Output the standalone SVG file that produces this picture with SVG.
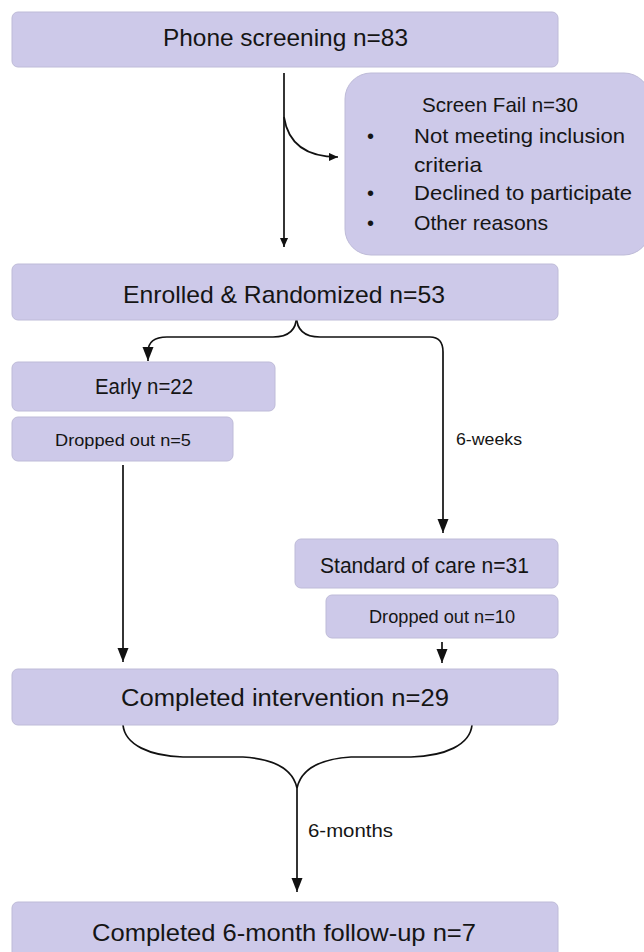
<svg xmlns="http://www.w3.org/2000/svg" width="644" height="952" viewBox="0 0 644 952">
<defs>
<style>
.box{fill:#cdc9e9;stroke:#bebbd8;stroke-width:1}
.t{font-family:"Liberation Sans",Arial,sans-serif;fill:#151515}
.ln{fill:none;stroke:#111;stroke-width:1.7}
</style>
<marker id="ah" markerUnits="userSpaceOnUse" viewBox="0 0 12 14" refX="14" refY="6" markerWidth="12" markerHeight="14" orient="auto">
<path d="M0,0.5 L14,6 L0,11.5 z" fill="#111"/>
</marker>
<marker id="ahs" markerUnits="userSpaceOnUse" viewBox="0 0 10 10" refX="10" refY="5" markerWidth="9" markerHeight="9" orient="auto">
<path d="M0,0.5 L10,5 L0,9.5 z" fill="#111"/>
</marker>
</defs>
<g id="connectors">
<path class="ln" d="M284,73 V247" marker-end="url(#ahs)"/>
<path class="ln" d="M284,117 C288,143 306,157 338,157" marker-end="url(#ahs)"/>
<path class="ln" d="M296.5,316 Q296.5,337 273,337 H167 Q148,337 148,352 V361" marker-end="url(#ah)"/>
<path class="ln" d="M296.5,316 Q296.5,337 320,337 H430 Q443,337 443,352 V533" marker-end="url(#ah)"/>
<path class="ln" d="M123,465 V662" marker-end="url(#ah)"/>
<path class="ln" d="M442,642 V663" marker-end="url(#ah)"/>
<path class="ln" d="M123,725 C125,745 150,756 183,757 H243 C275,759 293,770 297,788"/>
<path class="ln" d="M472,725 C470,745 445,756 411,757 H351 C319,759 301,770 297,788"/>
<path class="ln" d="M297,788 V892" marker-end="url(#ah)"/>
</g>
<g id="phone-screening">
<rect class="box" x="12" y="12" width="546" height="55" rx="6"/>
<text class="t" x="163" y="46" font-size="24" textLength="245" lengthAdjust="spacingAndGlyphs">Phone  screening n=83</text>
</g>
<g id="screen-fail">
<rect class="box" x="345" y="73" width="305" height="182" rx="26"/>
<text class="t" x="422" y="112" font-size="21" textLength="156" lengthAdjust="spacingAndGlyphs">Screen Fail n=30</text>
<text class="t" x="367" y="143" font-size="20">•</text>
<text class="t" x="414" y="143" font-size="21" textLength="211" lengthAdjust="spacingAndGlyphs">Not meeting inclusion</text>
<text class="t" x="414" y="172" font-size="21" textLength="68" lengthAdjust="spacingAndGlyphs">criteria</text>
<text class="t" x="367" y="200" font-size="20">•</text>
<text class="t" x="414" y="200" font-size="21" textLength="218" lengthAdjust="spacingAndGlyphs">Declined to participate</text>
<text class="t" x="367" y="230" font-size="20">•</text>
<text class="t" x="414" y="230" font-size="21" textLength="134" lengthAdjust="spacingAndGlyphs">Other reasons</text>
</g>
<g id="enrolled">
<rect class="box" x="12" y="264" width="546" height="56" rx="6"/>
<text class="t" x="123" y="303" font-size="24" textLength="322" lengthAdjust="spacingAndGlyphs">Enrolled &amp; Randomized n=53</text>
</g>
<g id="early">
<rect class="box" x="12" y="362" width="263" height="49" rx="6"/>
<text class="t" x="95" y="394" font-size="22" textLength="98" lengthAdjust="spacingAndGlyphs">Early n=22</text>
</g>
<g id="dropped-early">
<rect class="box" x="12" y="417" width="221" height="44" rx="6"/>
<text class="t" x="55" y="446" font-size="17" textLength="136" lengthAdjust="spacingAndGlyphs">Dropped  out n=5</text>
</g>
<g id="label-6weeks">
<text class="t" x="456" y="445" font-size="17" textLength="66" lengthAdjust="spacingAndGlyphs">6-weeks</text>
</g>
<g id="standard-of-care">
<rect class="box" x="295" y="539" width="263" height="49" rx="6"/>
<text class="t" x="320" y="573" font-size="22.5" textLength="209" lengthAdjust="spacingAndGlyphs">Standard of care n=31</text>
</g>
<g id="dropped-soc">
<rect class="box" x="326" y="595" width="232" height="43" rx="6"/>
<text class="t" x="369" y="623" font-size="18" textLength="146" lengthAdjust="spacingAndGlyphs">Dropped  out n=10</text>
</g>
<g id="completed-intervention">
<rect class="box" x="12" y="669" width="546" height="56" rx="6"/>
<text class="t" x="121" y="706" font-size="23.5" textLength="328" lengthAdjust="spacingAndGlyphs">Completed  intervention n=29</text>
</g>
<g id="label-6months">
<text class="t" x="308" y="837" font-size="18" textLength="85" lengthAdjust="spacingAndGlyphs">6-months</text>
</g>
<g id="completed-followup">
<rect class="box" x="12" y="902" width="546" height="60" rx="6"/>
<text class="t" x="92" y="941" font-size="24" textLength="384" lengthAdjust="spacingAndGlyphs">Completed  6-month follow-up  n=7</text>
</g>
</svg>
